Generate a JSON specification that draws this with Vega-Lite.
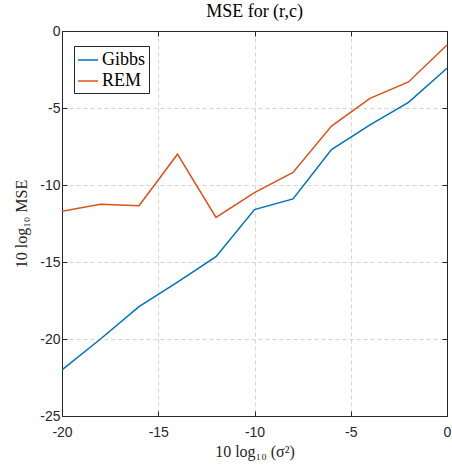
{
  "$schema": "https://vega.github.io/schema/vega-lite/v6.json",
  "width": 385,
  "height": 385,
  "autosize": "none",
  "padding": {"left": 62, "top": 31, "right": 5, "bottom": 49},
  "background": "white",
  "config": {
    "view": {"stroke": "#262626", "strokeWidth": 1},
    "axis": {
      "domainColor": "#262626",
      "tickColor": "#262626",
      "tickSize": -5,
      "labelFont": "Liberation Sans",
      "labelFontSize": 14,
      "labelColor": "#262626",
      "labelFlush": false,
      "labelExpr": "replace(datum.label, '−', '-')",
      "titleFont": "Liberation Serif",
      "titleFontSize": 16,
      "titleFontWeight": "normal",
      "titleColor": "#262626",
      "gridColor": "#d4d4d4",
      "gridDash": [4, 3],
      "gridWidth": 1
    }
  },
  "title": {
    "text": "MSE for (r,c)",
    "font": "Liberation Serif",
    "fontSize": 18,
    "fontWeight": "normal",
    "color": "#000000",
    "offset": 3
  },
  "data": {
    "values": [
      {"snr": -20, "mse": -22.0, "method": "Gibbs"},
      {"snr": -18, "mse": -20.0, "method": "Gibbs"},
      {"snr": -16, "mse": -17.9, "method": "Gibbs"},
      {"snr": -14, "mse": -16.3, "method": "Gibbs"},
      {"snr": -12, "mse": -14.65, "method": "Gibbs"},
      {"snr": -10, "mse": -11.6, "method": "Gibbs"},
      {"snr": -8, "mse": -10.9, "method": "Gibbs"},
      {"snr": -6, "mse": -7.7, "method": "Gibbs"},
      {"snr": -4, "mse": -6.1, "method": "Gibbs"},
      {"snr": -2, "mse": -4.63, "method": "Gibbs"},
      {"snr": 0, "mse": -2.42, "method": "Gibbs"},
      {"snr": -20, "mse": -11.7, "method": "REM"},
      {"snr": -18, "mse": -11.25, "method": "REM"},
      {"snr": -16, "mse": -11.34, "method": "REM"},
      {"snr": -14, "mse": -8.0, "method": "REM"},
      {"snr": -12, "mse": -12.1, "method": "REM"},
      {"snr": -10, "mse": -10.5, "method": "REM"},
      {"snr": -8, "mse": -9.18, "method": "REM"},
      {"snr": -6, "mse": -6.17, "method": "REM"},
      {"snr": -4, "mse": -4.37, "method": "REM"},
      {"snr": -2, "mse": -3.31, "method": "REM"},
      {"snr": 0, "mse": -0.91, "method": "REM"}
    ]
  },
  "layer": [
    {
      "mark": {"type": "line", "strokeWidth": 1.5},
      "encoding": {
        "x": {
          "field": "snr", "type": "quantitative",
          "scale": {"domain": [-20, 0], "nice": false},
          "axis": {"values": [-20, -15, -10, -5, 0], "title": "10 log₁₀ (σ²)", "labelPadding": 14, "titlePadding": 4}
        },
        "y": {
          "field": "mse", "type": "quantitative",
          "scale": {"domain": [-25, 0], "nice": false},
          "axis": {"values": [-25, -20, -15, -10, -5, 0], "title": "10 log₁₀ MSE", "labelPadding": 7, "titlePadding": 10}
        },
        "color": {
          "field": "method", "type": "nominal",
          "scale": {"domain": ["Gibbs", "REM"], "range": ["#0072BD", "#D95319"]},
          "legend": {
            "orient": "none",
            "legendX": 12,
            "legendY": 15,
            "title": null,
            "direction": "vertical",
            "symbolType": "stroke",
            "symbolSize": 400,
            "symbolStrokeWidth": 1.5,
            "labelFont": "Liberation Serif",
            "labelFontSize": 18,
            "labelColor": "#000000",
            "labelOffset": 3,
            "rowPadding": 1,
            "padding": 3,
            "strokeColor": "#262626",
            "fillColor": "white"
          }
        }
      }
    },
    {
      "mark": {"type": "line", "opacity": 0},
      "encoding": {
        "x": {
          "field": "snr", "type": "quantitative",
          "axis": {"orient": "top", "values": [-20, -15, -10, -5, 0], "labels": false, "grid": false, "title": null}
        },
        "y": {
          "field": "mse", "type": "quantitative",
          "axis": {"orient": "right", "values": [-25, -20, -15, -10, -5, 0], "labels": false, "grid": false, "title": null}
        }
      }
    }
  ],
  "resolve": {"axis": {"x": "independent", "y": "independent"}}
}
